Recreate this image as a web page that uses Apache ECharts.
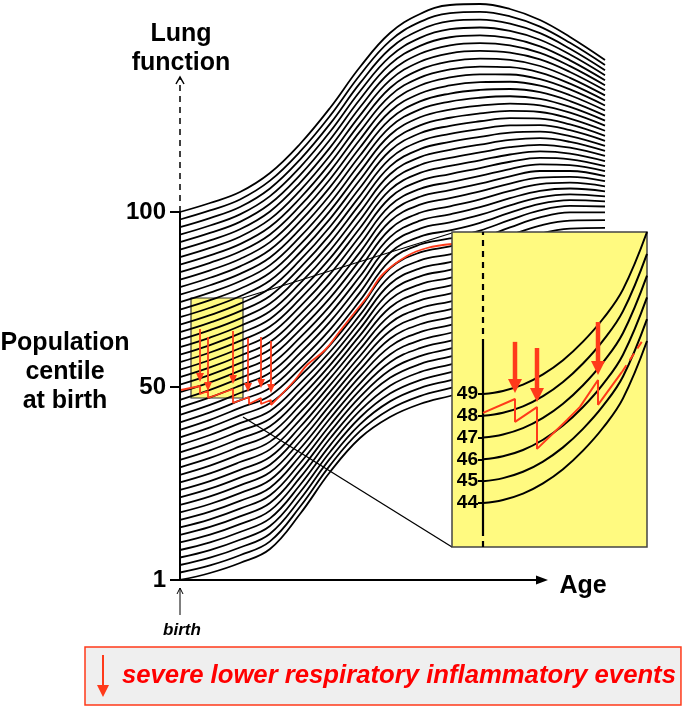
<!DOCTYPE html>
<html>
<head>
<meta charset="utf-8">
<title>Lung function tracking</title>
<script src="https://cdn.jsdelivr.net/npm/echarts@6/dist/echarts.min.js"></script>
<style>
  html, body { margin: 0; padding: 0; background: #fff; }
  #chart { width: 686px; height: 713px; }
</style>
</head>
<body>
<div id="chart"></div>
<script>
// main panel: age measured from birth, lung function measured above the centile-1 start
const ages = [0, 30, 60, 90, 120, 150, 180, 210, 240, 270, 300, 330, 360, 390, 425]
const topCurve = [368, 377, 388, 407, 436, 472, 513, 547, 566, 575, 576, 571, 560, 543, 520]
const midCurve = [145, 155, 167, 179, 206, 237, 274, 314, 330, 336, 344, 355, 365, 370, 370]
const lowCurve = [0, 7, 17, 31, 66, 108, 142, 163, 176, 184, 192, 200, 208, 214, 220]
// level of every centile line at birth
const birthLevels = [
  0, 7.5, 15, 22.5, 30, 37.6, 45.1, 52.6, 60.1, 67.6,
  75.1, 82.6, 90.1, 97.6, 105.2, 112.7, 120.2, 127.7, 135.2, 142.7,
  150.2, 157.7, 165.2, 172.7, 180.2, 187.8, 195.3, 202.8, 210.3, 217.8,
  225.3, 232.8, 240.3, 247.8, 255.3, 262.8, 270.4, 277.9, 285.4, 292.9,
  300.4, 307.9, 315.4, 322.9, 330.4, 337.9, 345.4, 352.9, 360.5, 368
]
const centileTicks = [0, 193, 368]
const centileTickLabels = ['1', '50', '100']

// red trajectory: stepped part during the events, then the smooth tracking part
const redStepAges = [1, 20, 20, 28, 28, 53, 53, 69, 69, 81, 81, 91, 91]
const redStepLevels = [190, 194, 186, 189, 182, 191, 177, 183, 176, 182, 176, 180, 175]
const redTrackAges = [91, 115, 127, 145, 160, 175, 187, 203, 227, 247, 272]
const redTrackLevels = [175, 200, 215, 230, 249, 268, 283, 306, 324, 332, 336]

// events in the main panel: arrow age, shaft top, arrow tip
const eventAges = [20, 28, 53, 68, 81, 91]
const eventTops = [251, 243, 249, 242, 243, 239]
const eventTips = [198, 189, 196, 188, 192, 187]

// zoomed inset: centiles 44-49
const insetCentiles = [44, 45, 46, 47, 48, 49]
const insetAges = [0, 20, 40, 60, 80, 100, 120, 140, 164]
const insetRise = [0, 0.14, 0.43, 0.9, 1.55, 2.4, 3.45, 4.8, 7.43]
const insetRedAges = [0, 32, 32, 54, 54, 84, 97, 115, 115, 139]
const insetRedLevels = [48.13, 48.77, 47.72, 48.4, 46.48, 47.81, 48.41, 49.64, 48.5, 50.01]
const insetRedDashAges = [139, 160]
const insetRedDashLevels = [50.01, 51.48]
const insetEventAges = [32, 54, 115]
const insetEventTops = [51.39, 51.11, 52.3]
const insetEventTips = [49.05, 48.63, 49.87]

const fontStack = '"Liberation Sans", Arial, Helvetica, sans-serif'
const red = '#ff3a1a'
const yellow = '#fffa80'
const legendName = 'severe lower respiratory inflammatory events'

function centileLine(start) {
  return ages.map((a, i) => {
    let v
    if (start >= midCurve[0]) {
      const t = (start - midCurve[0]) / (topCurve[0] - midCurve[0])
      v = midCurve[i] + t * (topCurve[i] - midCurve[i])
    } else {
      const t = start / midCurve[0]
      v = lowCurve[i] + t * (midCurve[i] - lowCurve[i])
    }
    return [a, v]
  })
}

function pairs(xs, ys) {
  return xs.map((x, i) => [x, ys[i]])
}

function arrowRenderer(opt) {
  return function (params, api) {
    const p0 = api.coord([api.value(0), api.value(1)])
    const p1 = api.coord([api.value(2), api.value(3)])
    const dx = p1[0] - p0[0]
    const dy = p1[1] - p0[1]
    const len = Math.sqrt(dx * dx + dy * dy) || 1
    const ux = dx / len
    const uy = dy / len
    const bx = p1[0] - ux * opt.headLength
    const by = p1[1] - uy * opt.headLength
    const hw = opt.headWidth / 2
    const left = [bx - uy * hw, by + ux * hw]
    const right = [bx + uy * hw, by - ux * hw]
    const end = opt.open ? p1 : [bx + ux, by + uy]
    return {
      type: 'group',
      children: [
        {
          type: 'line',
          shape: { x1: p0[0], y1: p0[1], x2: end[0], y2: end[1] },
          style: { stroke: opt.color, lineWidth: opt.width, lineDash: opt.dash || null }
        },
        opt.open
          ? {
              type: 'polyline',
              shape: { points: [left, p1, right] },
              style: { stroke: opt.color, lineWidth: opt.headStroke || 1.5, fill: 'none' }
            }
          : {
              type: 'polygon',
              shape: { points: [left, p1, right] },
              style: { fill: opt.color }
            }
      ]
    }
  }
}

function boxRenderer(fill, stroke, lw) {
  return function (params, api) {
    const a = api.coord([api.value(0), api.value(1)])
    const b = api.coord([api.value(2), api.value(3)])
    return {
      type: 'rect',
      shape: {
        x: Math.min(a[0], b[0]),
        y: Math.min(a[1], b[1]),
        width: Math.abs(b[0] - a[0]),
        height: Math.abs(b[1] - a[1])
      },
      style: { fill: fill, stroke: stroke, lineWidth: lw }
    }
  }
}

const series = []

// small highlighted region at birth (under the centile lines)
series.push({
  type: 'custom',
  z: 1,
  silent: true,
  renderItem: boxRenderer(yellow, '#333', 1.2),
  encode: { x: [0, 2], y: [1, 3] },
  data: [[11, 182, 63, 282]]
})

birthLevels.forEach((start, i) => {
  series.push({
    type: 'line',
    name: 'centile' + i,
    z: 2,
    silent: true,
    smooth: 0.4,
    showSymbol: false,
    lineStyle: { color: '#000', width: 1.8 },
    data: centileLine(start)
  })
})

// zoom connectors
series.push({
  type: 'line',
  z: 3,
  silent: true,
  showSymbol: false,
  lineStyle: { color: '#000', width: 1.3 },
  data: [[63, 282], [272, 347]]
})
series.push({
  type: 'line',
  z: 3,
  silent: true,
  showSymbol: false,
  lineStyle: { color: '#000', width: 1.3 },
  data: [[63, 163], [272, 33]]
})

// red trajectory
series.push({
  type: 'line',
  z: 4,
  silent: true,
  showSymbol: false,
  lineStyle: { color: red, width: 1.8 },
  data: pairs(redStepAges, redStepLevels)
})
series.push({
  type: 'line',
  z: 4,
  silent: true,
  smooth: 0.4,
  showSymbol: false,
  lineStyle: { color: red, width: 1.8 },
  data: pairs(redTrackAges, redTrackLevels)
})

// event arrows in the main panel (legend entry)
series.push({
  type: 'custom',
  name: legendName,
  z: 5,
  silent: true,
  itemStyle: { color: red },
  renderItem: arrowRenderer({ color: red, width: 1.8, headLength: 9, headWidth: 8 }),
  encode: { x: [0, 2], y: [1, 3] },
  data: eventAges.map((a, i) => [a, eventTops[i], a, eventTips[i]])
})

// axes of the main panel
series.push({
  type: 'line',
  z: 5,
  silent: true,
  showSymbol: false,
  clip: false,
  lineStyle: { color: '#000', width: 2 },
  data: [[0, 0], [0, 368]]
})
series.push({
  type: 'custom',
  z: 5,
  silent: true,
  renderItem: arrowRenderer({ color: '#000', width: 1.5, headLength: 7, headWidth: 8, open: true, dash: [6, 5] }),
  encode: { x: [0, 2], y: [1, 3] },
  data: [[0, 368, 0, 503]]
})
series.push({
  type: 'custom',
  z: 5,
  silent: true,
  renderItem: arrowRenderer({ color: '#000', width: 2, headLength: 12, headWidth: 9 }),
  encode: { x: [0, 2], y: [1, 3] },
  data: [[0, 0, 368, 0]]
})
series.push({
  type: 'custom',
  z: 5,
  silent: true,
  renderItem: arrowRenderer({ color: '#000', width: 1, headLength: 6, headWidth: 6, open: true, headStroke: 1 }),
  encode: { x: [0, 2], y: [1, 3] },
  data: [[0, -35, 0, -8]]
})

// inset (grid 1), its age axis starts at the dashed line
series.push({
  type: 'custom',
  xAxisIndex: 1,
  yAxisIndex: 1,
  z: 10,
  silent: true,
  renderItem: boxRenderer(yellow, '#444', 1.5),
  encode: { x: [0, 2], y: [1, 3] },
  data: [[-31, 41.98, 164, 56.43]]
})
series.push({
  type: 'line',
  xAxisIndex: 1,
  yAxisIndex: 1,
  z: 12,
  silent: true,
  clip: false,
  showSymbol: false,
  lineStyle: { color: '#000', width: 2.2 },
  data: [[0, 42.76], [0, 51.25]]
})
series.push({
  type: 'line',
  xAxisIndex: 1,
  yAxisIndex: 1,
  z: 12,
  silent: true,
  clip: false,
  showSymbol: false,
  lineStyle: { color: '#000', width: 2.2, type: [6, 5] },
  data: [[0, 51.25], [0, 56.43]]
})
series.push({
  type: 'line',
  xAxisIndex: 1,
  yAxisIndex: 1,
  z: 12,
  silent: true,
  clip: false,
  showSymbol: false,
  lineStyle: { color: '#000', width: 2.2, type: [6, 5] },
  data: [[0, 41.98], [0, 42.76]]
})
insetCentiles.forEach((c) => {
  series.push({
    type: 'line',
    xAxisIndex: 1,
    yAxisIndex: 1,
    z: 12,
    silent: true,
    smooth: 0.4,
    showSymbol: false,
    lineStyle: { color: '#000', width: 2 },
    data: insetAges.map((a, i) => [a, c + insetRise[i]])
  })
})
series.push({
  type: 'line',
  xAxisIndex: 1,
  yAxisIndex: 1,
  z: 13,
  silent: true,
  showSymbol: false,
  lineStyle: { color: red, width: 2 },
  data: pairs(insetRedAges, insetRedLevels)
})
series.push({
  type: 'line',
  xAxisIndex: 1,
  yAxisIndex: 1,
  z: 13,
  silent: true,
  showSymbol: false,
  lineStyle: { color: red, width: 2, type: [8, 6] },
  data: pairs(insetRedDashAges, insetRedDashLevels)
})
series.push({
  type: 'custom',
  xAxisIndex: 1,
  yAxisIndex: 1,
  z: 14,
  silent: true,
  renderItem: arrowRenderer({ color: red, width: 4.5, headLength: 14, headWidth: 14 }),
  encode: { x: [0, 2], y: [1, 3] },
  data: insetEventAges.map((a, i) => [a, insetEventTops[i], a, insetEventTips[i]])
})

const boldText = (text, x, y, size, extra) => ({
  type: 'text',
  x: x,
  y: y,
  z: 50,
  style: Object.assign({
    text: text,
    fill: '#000',
    font: 'bold ' + size + 'px ' + fontStack,
    align: 'center',
    verticalAlign: 'middle'
  }, extra || {})
})

const option = {
  animation: false,
  backgroundColor: '#fff',
  textStyle: { fontFamily: fontStack },
  grid: [
    { left: 180, right: 0, top: 0, bottom: 0, outerBoundsMode: 'none', containLabel: false },
    { left: 483, top: 232, width: 164, height: 315, outerBoundsMode: 'none', containLabel: false }
  ],
  xAxis: [
    { type: 'value', gridIndex: 0, min: 0, max: 506, show: false },
    { type: 'value', gridIndex: 1, min: 0, max: 164, show: false }
  ],
  yAxis: [
    {
      type: 'value',
      gridIndex: 0,
      min: -133,
      max: 580,
      z: 6,
      splitLine: { show: false },
      axisLine: { show: false },
      axisTick: {
        show: true,
        customValues: centileTicks,
        length: 10,
        lineStyle: { color: '#000', width: 2 }
      },
      axisLabel: {
        show: true,
        customValues: centileTicks,
        margin: 14,
        color: '#000',
        fontWeight: 'bold',
        fontSize: 24,
        fontFamily: fontStack,
        formatter: (v) => centileTickLabels[centileTicks.indexOf(v)] || ''
      }
    },
    {
      type: 'value',
      gridIndex: 1,
      min: 41.98,
      max: 56.43,
      z: 30,
      splitLine: { show: false },
      axisLine: { show: false },
      axisTick: {
        show: true,
        customValues: insetCentiles,
        length: 5,
        lineStyle: { color: '#000', width: 2 }
      },
      axisLabel: {
        show: true,
        customValues: insetCentiles,
        margin: 5,
        color: '#000',
        fontWeight: 'bold',
        fontSize: 19,
        fontFamily: fontStack,
        formatter: (v) => String(v)
      }
    }
  ],
  legend: {
    left: 85,
    top: 647,
    orient: 'horizontal',
    selectedMode: false,
    padding: [8, 5, 8, 12],
    backgroundColor: '#efefef',
    borderColor: red,
    borderWidth: 1.5,
    itemWidth: 12,
    itemHeight: 42,
    data: [{
      name: legendName,
      icon: 'path://M5,0 L7,0 L7,30 L12,30 L6,42 L0,30 L5,30 Z'
    }],
    textStyle: {
      color: '#ff0000',
      fontSize: 25.7,
      fontStyle: 'italic',
      fontWeight: 'bold',
      fontFamily: fontStack,
      padding: [0, 0, 0, 8]
    }
  },
  graphic: [
    boldText('Lung\nfunction', 181, 49, 25, { lineHeight: 29 }),
    boldText('Population\ncentile\nat birth', 65, 372, 25, { lineHeight: 29 }),
    boldText('Age', 583, 586, 25),
    boldText('birth', 182, 630, 17, { font: 'italic bold 17px ' + fontStack })
  ],
  series: series
}

const chart = echarts.init(document.getElementById('chart'), null, { renderer: 'canvas' })
chart.setOption(option)
</script>
</body>
</html>
